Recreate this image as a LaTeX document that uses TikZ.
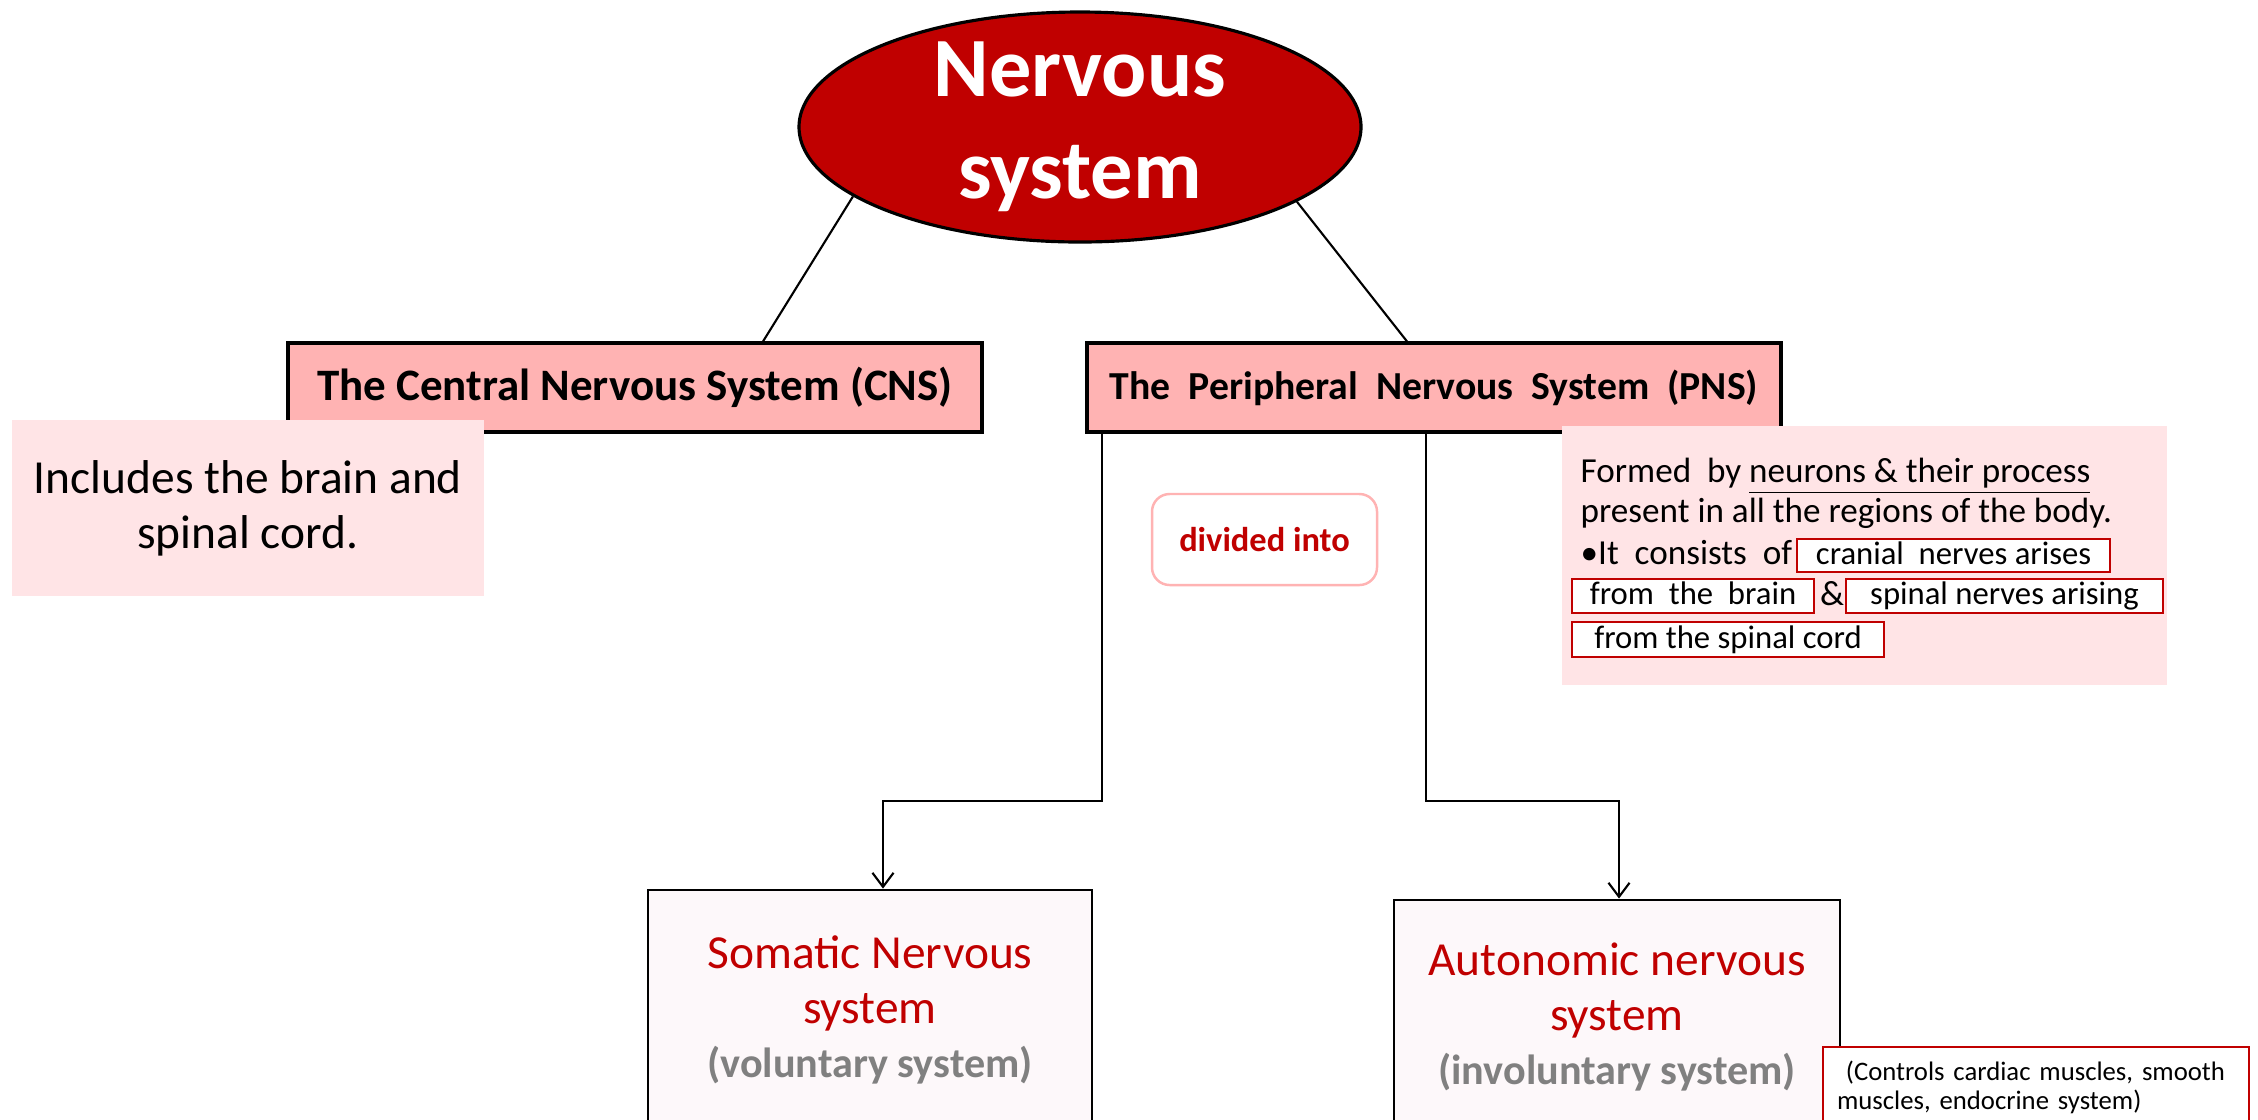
\documentclass[tikz,border=0pt]{standalone}
\usepackage{fontspec}
\setmainfont{Carlito}
\usepackage{xcolor}
\usetikzlibrary{shapes.geometric, arrows.meta, positioning, calc}
\definecolor{nsRed}{HTML}{C00000}
\definecolor{nsPink}{HTML}{FFB3B3}
\definecolor{nsBlush}{HTML}{FFE4E6}
\definecolor{nsPale}{HTML}{FDF8FA}
\definecolor{nsGray}{HTML}{808080}

\begin{document}
\begin{tikzpicture}[
    catbox/.style={rectangle, draw=black, line width=0.9pt, fill=nsPink, minimum width=6.94cm,
      minimum height=0.89cm, inner sep=0pt},
    notebox/.style={rectangle, fill=nsBlush, inner sep=0pt, align=center},
    sysbox/.style={rectangle, draw=black, line width=0.8pt, fill=nsPale, inner sep=0pt, align=center,
      font=\fontsize{13.5}{15.6}\selectfont, text=nsRed},
    redtag/.style={rectangle, draw=nsRed, line width=0.7pt, fill=white, inner sep=0pt,
      text height=0.25cm, text depth=0.08cm, font=\fontsize{9.3}{11}\selectfont},
    desctxt/.style={anchor=base west, inner sep=0pt, font=\fontsize{10}{12}\selectfont},
    link/.style={line width=0.6pt},
    arr/.style={-{Straight Barb[length=4pt, width=6pt]}, line width=0.6pt}
  ]
  \clip (0,0) rectangle (22.58,-11.19);

  % top of the tree
  \node[ellipse, draw=black, line width=0.9pt, fill=nsRed, minimum width=5.62cm, minimum height=2.30cm,
    inner xsep=0pt, inner ysep=-0.15cm, text=white, align=center,
    font=\fontsize{24}{29}\selectfont\bfseries] (nerv) at (10.80,-1.27) {Nervous\\system};

  \node[catbox, font=\fontsize{12.8}{14}\selectfont\bfseries] (cns) at (6.35,-3.875)
    {The Central Nervous System (CNS)};
  \node[catbox, font=\fontsize{11.3}{14}\selectfont\bfseries] (pns) at (14.34,-3.875)
    {The\ \ Peripheral\ \ Nervous\ \ System\ \ (PNS)};

  \draw[link] (nerv.197) -- ($(cns.north)+(1.28,0)$);
  \draw[link] (nerv.341) -- ($(pns.north)+(-0.27,0)$);

  % notes
  \node[notebox, minimum width=4.72cm, minimum height=1.76cm, font=\fontsize{13.5}{15.6}\selectfont]
    (incl) at (2.48,-5.08) {Includes the brain and\\spinal cord.};

  \node[rectangle, draw=nsPink, line width=0.7pt, rounded corners=5pt, fill=white, minimum width=2.25cm,
    minimum height=0.91cm, text=nsRed, font=\fontsize{9.8}{11}\selectfont\bfseries] (div) at (12.645,-5.395)
    {divided into};

  \node[notebox, minimum width=6.05cm, minimum height=2.59cm] (desc) at (18.645,-5.555) {};
  \node[desctxt] (formed) at (15.80,-4.82) {Formed\ \ by \underline{neurons \& their process}};
  \node[desctxt] (present) at (15.80,-5.22) {present in all the regions of the body.};
  \node[desctxt] (consist) at (15.80,-5.64) {\textbullet It\ \ consists\ \ of};
  \node[redtag, minimum width=3.13cm, minimum height=0.33cm] (cranial) at (19.535,-5.555)
    {cranial\ \ nerves arises};
  \node[redtag, minimum width=2.42cm, minimum height=0.34cm] (brain) at (16.93,-5.96)
    {from\ \ the\ \ brain};
  \node[desctxt, anchor=base] (amp) at (18.32,-6.05) {\&};
  \node[redtag, minimum width=3.17cm, minimum height=0.34cm] (spinal) at (20.045,-5.96)
    {spinal nerves arising};
  \node[redtag, minimum width=3.12cm, minimum height=0.35cm] (cord) at (17.28,-6.395)
    {from the spinal cord};

  % the two divisions
  \node[sysbox, minimum width=4.44cm, minimum height=2.40cm] (som) at (8.70,-10.10)
    {Somatic Nervous\\system\\{\color{nsGray}\bfseries\fontsize{12}{15.6}\selectfont (voluntary system)}};
  \node[sysbox, minimum width=4.46cm, minimum height=2.34cm] (ans) at (16.17,-10.17)
    {Autonomic nervous\\system\\{\color{nsGray}\bfseries\fontsize{12}{15.6}\selectfont (involuntary system)}};

  \node[rectangle, draw=nsRed, line width=0.8pt, fill=white, text width=3.98cm, inner xsep=0.14cm,
    inner ysep=0pt, minimum height=0.80cm, align=left, font=\fontsize{7.6}{8.3}\selectfont] (ctrl)
    at (20.36,-10.87) {\ (Controls cardiac muscles, smooth\\muscles, endocrine system)};

  \coordinate (elbowL) at (8.83,-8.01);
  \coordinate (elbowR) at (16.19,-8.01);
  \draw[arr] ($(pns.south west)+(0.17,0)$) |- (elbowL) -- (elbowL |- som.north);
  \draw[arr] ($(pns.south)+(-0.08,0)$) |- (elbowR) -- (elbowR |- ans.north);
\end{tikzpicture}
\end{document}
